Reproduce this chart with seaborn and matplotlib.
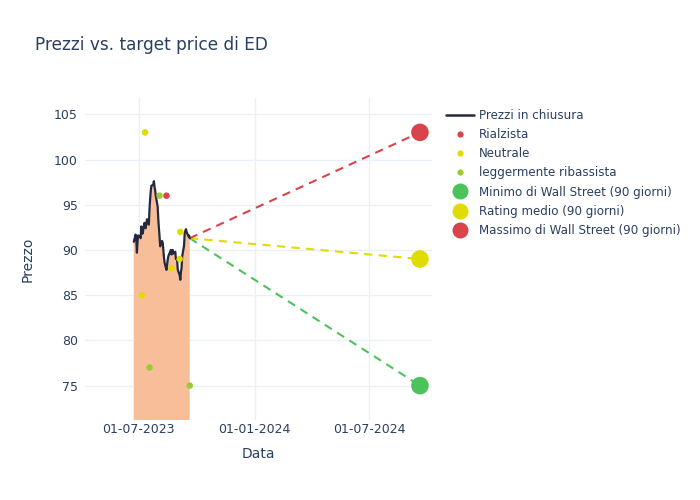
import pandas as pd
import numpy as np
import matplotlib.pyplot as plt
import matplotlib.dates as mdates
import seaborn as sns
from matplotlib.lines import Line2D

# Closing prices (business days 23-06-2023 .. 20-09-2023)
price_start = "2023-06-23"
prices = [90.9, 91.7, 91.2, 89.7, 90.9, 91.6, 91.5, 91.3, 92.6, 92.2,
          91.8, 93.0, 92.6, 92.4, 92.9, 93.4, 92.8, 94.5, 95.6, 96.5,
          97.1, 97.2, 97.6, 97.0, 96.6, 96.0, 94.8, 93.4, 92.4, 91.5,
          90.4, 91.0, 90.8, 90.0, 89.2, 88.6, 87.8, 88.4, 88.9, 89.3,
          89.5, 90.0, 89.5, 89.9, 90.0, 89.6, 89.8, 89.0, 89.1, 88.8,
          87.8, 87.2, 86.7, 87.6, 88.0, 89.3, 90.5, 91.9, 92.1, 92.3,
          92.0, 91.5, 91.6, 91.3]

# Analyst ratings
rating_dates = ["2023-08-14",
                "2023-07-06", "2023-07-11", "2023-08-22", "2023-09-04", "2023-09-05",
                "2023-07-18", "2023-08-03", "2023-09-20"]
rating_values = [96, 85, 103, 88, 89, 92, 77, 96, 75]
rating_labels = ["Rialzista",
                 "Neutrale", "Neutrale", "Neutrale", "Neutrale", "Neutrale",
                 "leggermente ribassista", "leggermente ribassista", "leggermente ribassista"]

# Wall Street targets (90 days)
target_date = "2024-09-20"
target_names = ["Minimo di Wall Street (90 giorni)", "Rating medio (90 giorni)",
                "Massimo di Wall Street (90 giorni)"]
target_values = [75, 89, 103]

text_col = "#2a3f5f"
grid_col = "#ebf0f8"
rating_colors = {"Rialzista": "#d9434b", "Neutrale": "#e0dc00",
                 "leggermente ribassista": "#9acd32"}
target_colors = ["#4cc35a", "#e0dc00", "#d9434b"]

df = pd.DataFrame({"date": pd.bdate_range(price_start, periods=len(prices)),
                   "price": prices})
ratings = pd.DataFrame({"date": pd.to_datetime(rating_dates),
                        "value": rating_values, "rating": rating_labels})

sns.set_theme(style="white")
plt.rcParams['font.family'] = ['DejaVu Sans']

fig = plt.figure(figsize=(7, 5), dpi=100)
ax = fig.add_axes([0.121, 0.16, 0.496, 0.644])

ax.fill_between(df["date"], df["price"], 0, color="#f8be9a", lw=0, zorder=1)
sns.lineplot(data=df, x="date", y="price", color="#232a40", lw=1.6, ax=ax,
             zorder=3, label="Prezzi in chiusura", legend=False)

# dashed lines from last price to targets
last_date = df["date"].iloc[-1]
last_price = df["price"].iloc[-1]
tdate = pd.to_datetime(target_date)
for val, col in zip(target_values, target_colors):
    ax.plot([last_date, tdate], [last_price, val], color=col, lw=1.5,
            ls=(0, (4, 3)), zorder=2)

sns.scatterplot(data=ratings, x="date", y="value", hue="rating",
                palette=rating_colors, s=22, edgecolor="none", ax=ax,
                zorder=4, legend=False)

for val, col in zip(target_values, target_colors):
    ax.scatter([tdate], [val], s=160, color=col, edgecolor="none", zorder=5)

ax.set_xlim(pd.Timestamp("2023-04-06"), pd.Timestamp("2024-10-09"))
ax.set_ylim(71.2, 106.8)
ax.set_yticks([75, 80, 85, 90, 95, 100, 105])
ax.set_xticks(pd.to_datetime(["2023-07-01", "2024-01-01", "2024-07-01"]))
ax.xaxis.set_major_formatter(mdates.DateFormatter("%d-%m-%Y"))
ax.grid(True, color=grid_col, lw=1)
ax.set_axisbelow(True)
for s in ax.spines.values():
    s.set_visible(False)
ax.tick_params(length=0, labelsize=9, colors=text_col)
ax.tick_params(axis="y", pad=5)
ax.tick_params(axis="x", pad=2)
ax.set_xlabel("Data", fontsize=10, color=text_col, labelpad=8)
ax.set_ylabel("Prezzo", fontsize=10, color=text_col, labelpad=14)

fig.text(0.05, 0.91, "Prezzi vs. target price di ED", fontsize=12.2,
         color=text_col, va="center")

handles = [Line2D([], [], color="#232a40", lw=1.8)]
for k in ["Rialzista", "Neutrale", "leggermente ribassista"]:
    handles.append(Line2D([], [], ls="none", marker="o", markersize=4.5,
                          markerfacecolor=rating_colors[k], markeredgecolor="none"))
for col in target_colors:
    handles.append(Line2D([], [], ls="none", marker="o", markersize=11.5,
                          markerfacecolor=col, markeredgecolor="none"))
labels = ["Prezzi in chiusura", "Rialzista", "Neutrale", "leggermente ribassista"] + target_names
leg = fig.legend(handles, labels, loc="upper left", bbox_to_anchor=(0.631, 0.792),
                 frameon=False, fontsize=8.6, handlelength=2.3, labelspacing=0.52,
                 handletextpad=0.45, borderaxespad=0)
for t in leg.get_texts():
    t.set_color(text_col)

fig.savefig("out.png", dpi=100)
